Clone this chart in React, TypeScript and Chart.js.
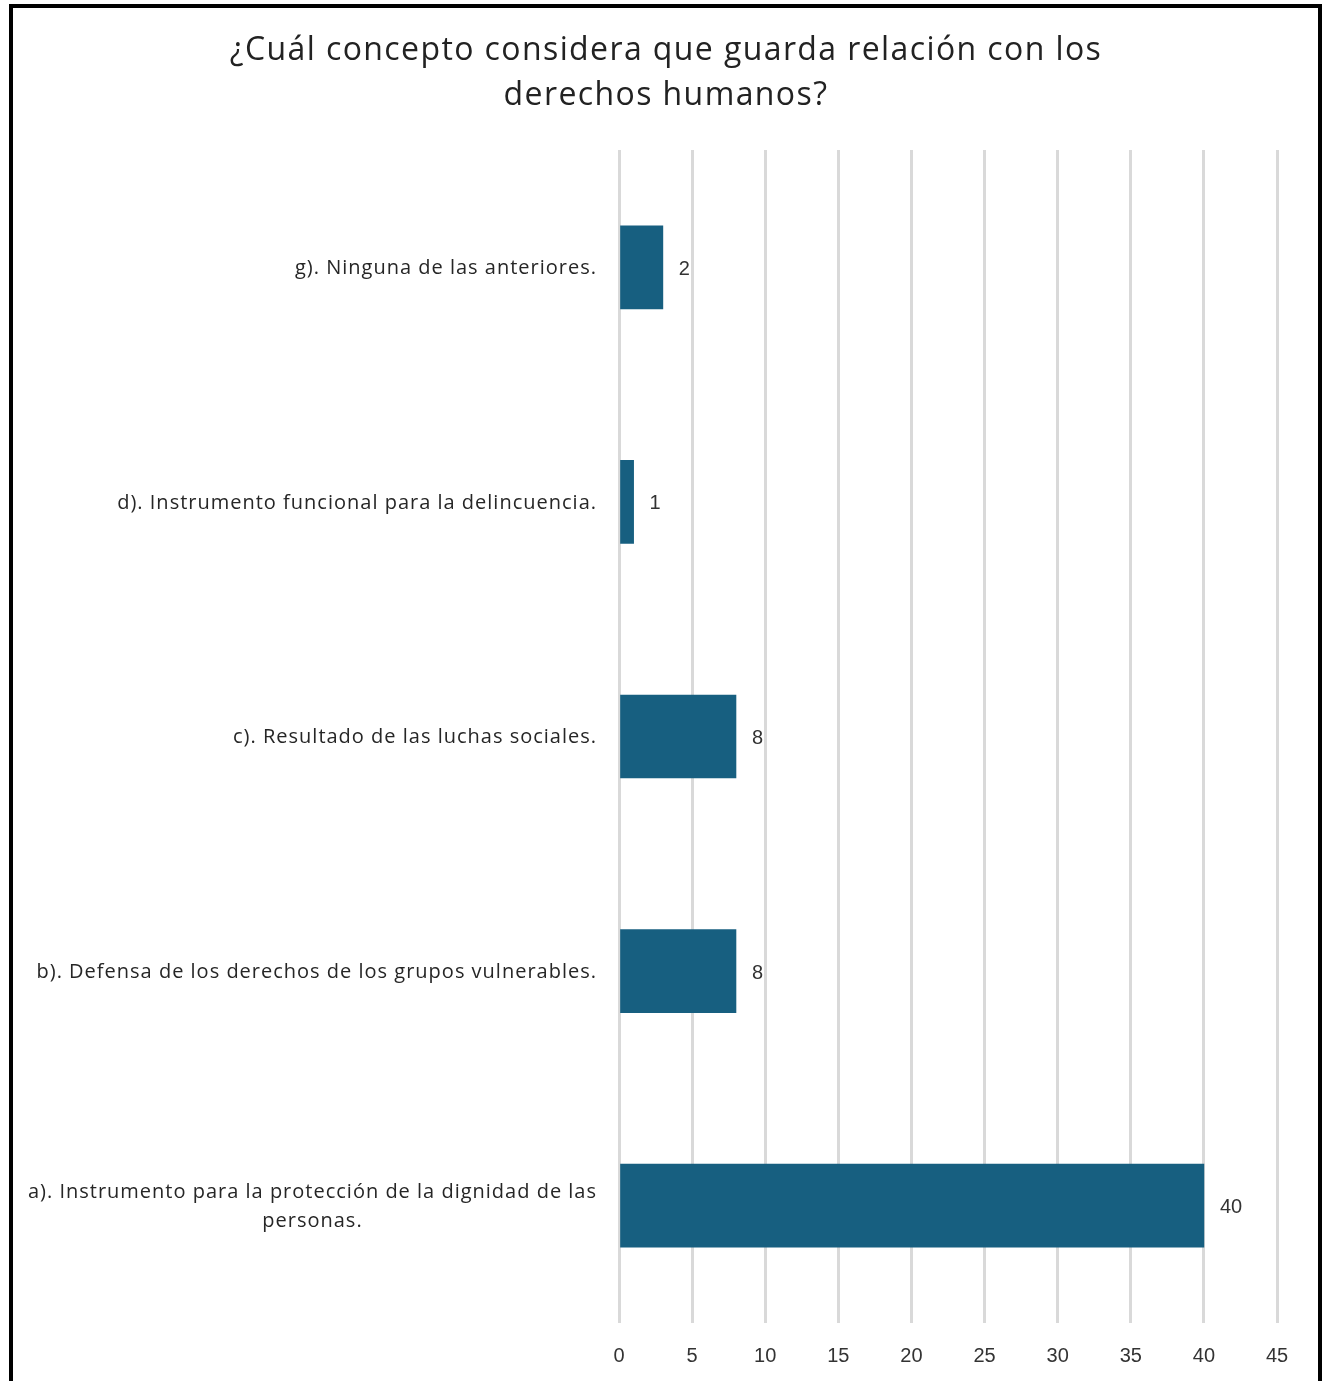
import React, { useEffect, useRef } from "react";
import { Chart, registerables } from "chart.js";

Chart.register(...registerables);

const titleLines = [
  "¿Cuál concepto considera que guarda relación con los",
  "derechos humanos?",
];

const categories: (string | string[])[] = [
  "g). Ninguna de las anteriores.",
  "d). Instrumento funcional para la delincuencia.",
  "c). Resultado de las luchas sociales.",
  "b). Defensa de los derechos de los grupos vulnerables.",
  ["a). Instrumento para la protección de la dignidad de las", "personas."],
];

// bar lengths as drawn in the picture
const barValues = [3, 1, 8, 8, 40];
// value labels as printed next to the bars
const valueLabels = ["2", "1", "8", "8", "40"];

const xTicks = [0, 5, 10, 15, 20, 25, 30, 35, 40, 45];

const BAR_COLOR = "#175f80";
const TEXT_COLOR = "#262626";
const LABEL_FONT = '20px "Open Sans"';
const TITLE_FONT = '32px "Open Sans"';

const labelsPlugin = {
  id: "customLabels",
  afterDraw(chart: any) {
    const ctx = chart.ctx;
    const yScale = chart.scales.y;
    const meta = chart.getDatasetMeta(0);
    ctx.save();
    // title
    ctx.font = TITLE_FONT;
    (ctx as any).letterSpacing = "1.4px";
    ctx.fillStyle = "#222222";
    ctx.textAlign = "center";
    ctx.textBaseline = "middle";
    titleLines.forEach((l, i) => ctx.fillText(l, 666, 51 + i * 45));
    // category labels
    ctx.font = LABEL_FONT;
    (ctx as any).letterSpacing = "1px";
    ctx.fillStyle = TEXT_COLOR;
    const rightEdge = chart.chartArea.left - 22;
    const lineH = 29;
    categories.forEach((cat, i) => {
      const y = yScale.getPixelForValue(i) + 1;
      const lines = Array.isArray(cat) ? cat : [cat];
      const widths = lines.map((l) => ctx.measureText(l).width);
      const maxW = Math.max(...widths);
      const center = rightEdge - maxW / 2;
      const startY = y - ((lines.length - 1) * lineH) / 2;
      ctx.textAlign = "center";
      lines.forEach((l, j) => {
        ctx.fillText(l, center, startY + j * lineH);
      });
    });
    // value labels
    (ctx as any).letterSpacing = "0px";
    ctx.font = '20px "Liberation Sans", Arial, sans-serif';
    ctx.fillStyle = "#333333";
    ctx.textAlign = "left";
    meta.data.forEach((bar: any, i: number) => {
      ctx.fillText(valueLabels[i], bar.x + 16, bar.y + 2);
    });
    ctx.restore();
  },
};

export default function App() {
  const ref = useRef<HTMLCanvasElement | null>(null);

  useEffect(() => {
    if (!ref.current) return;
    const chart = new Chart(ref.current, {
      type: "bar",
      data: {
        labels: categories.map((c) => (Array.isArray(c) ? c.join(" ") : c)),
        datasets: [
          {
            data: barValues,
            backgroundColor: BAR_COLOR,
            borderWidth: 0,
            barThickness: 83,
          },
        ],
      },
      options: {
        indexAxis: "y",
        responsive: false,
        animation: false,
        layout: { padding: { left: 619, right: 47, top: 150, bottom: 0 } },
        plugins: {
          legend: { display: false },
          tooltip: { enabled: false },
          title: { display: false },
        },
        scales: {
          x: {
            min: 0,
            max: 45,
            afterBuildTicks: (s: any) => {
              s.ticks = xTicks.map((v) => ({ value: v }));
            },
            afterFit: (s: any) => {
              s.height = 58;
            },
            grid: { color: "#d9d9d9", lineWidth: 3, drawTicks: false },
            border: { display: false },
            ticks: {
              padding: 21,
              color: "#333333",
              font: { family: '"Liberation Sans", Arial, sans-serif', size: 20 },
            },
          },
          y: {
            display: false,
          },
        },
      },
      plugins: [labelsPlugin],
    } as any);
    return () => chart.destroy();
  }, []);

  return (
    <div
      style={{
        position: "absolute",
        left: 0,
        top: 0,
        width: 1324,
        height: 1381,
        overflow: "hidden",
        background: "#fff",
      }}
    >
      <div
        style={{
          position: "absolute",
          left: 9,
          top: 4,
          width: 1305,
          height: 1420,
          border: "4px solid #000",
        }}
      />
      <canvas
        ref={ref}
        width={1324}
        height={1381}
        style={{ position: "absolute", left: 0, top: 0 }}
      />
    </div>
  );
}
